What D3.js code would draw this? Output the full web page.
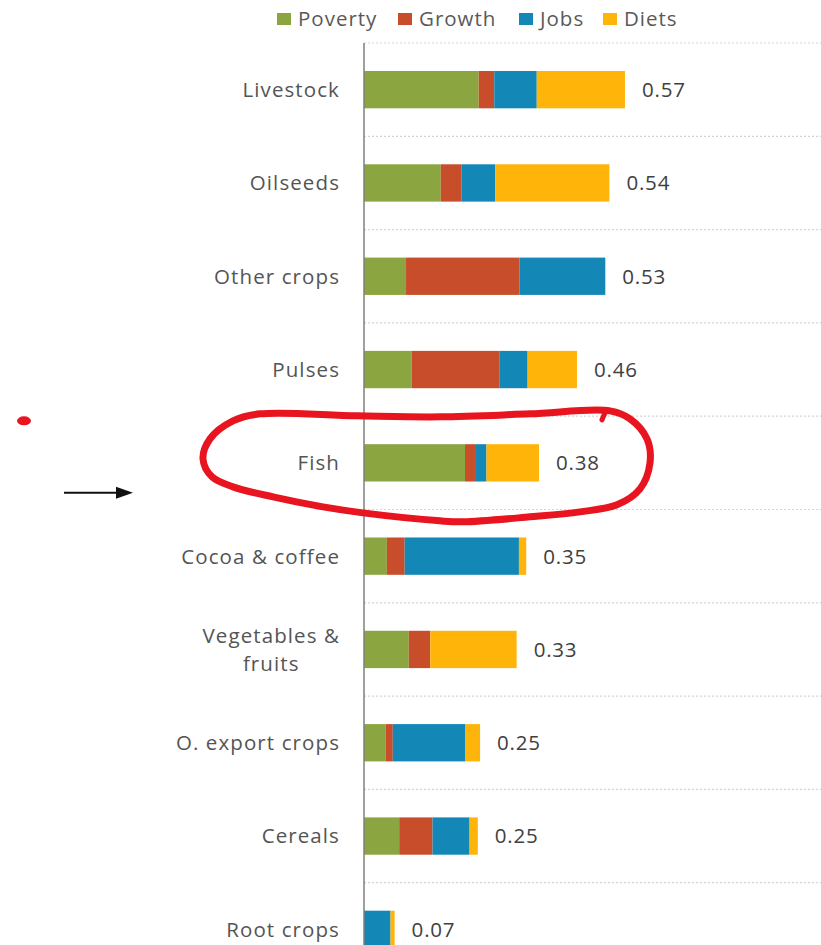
<!DOCTYPE html>
<html lang="en">
  <head>
    <meta charset="utf-8">
    <title>Stacked bars</title>
    <script src="https://d3js.org/d3.v7.min.js"></script>
    <style>
      body { margin: 0; background: #fff; }
      text { font-family: "Open Sans", sans-serif; }
    </style>
  </head>
  <body>
    <script>
      var categories = ["Livestock", "Oilseeds", "Other crops", "Pulses", "Fish",
        "Cocoa & coffee", "Vegetables & fruits", "O. export crops", "Cereals", "Root crops"];
      var series = ["Poverty", "Growth", "Jobs", "Diets"];
      var poverty = [0.251, 0.168, 0.092, 0.104, 0.221, 0.050, 0.098, 0.047, 0.077, 0];
      var growth  = [0.034, 0.045, 0.248, 0.192, 0.024, 0.039, 0.047, 0.016, 0.073, 0];
      var jobs    = [0.093, 0.074, 0.188, 0.062, 0.023, 0.250, 0, 0.158, 0.081, 0.058];
      var diets   = [0.193, 0.250, 0, 0.108, 0.115, 0.016, 0.189, 0.033, 0.018, 0.009];
      var totals  = ["0.57", "0.54", "0.53", "0.46", "0.38", "0.35", "0.33", "0.25", "0.25", "0.07"];
      var colors  = ["#8ba640", "#c84e2b", "#1388b7", "#ffb40a"];

      var width = 821, height = 945;

      var rows = categories.map(function(c, i) {
        return { name: c, Poverty: poverty[i], Growth: growth[i], Jobs: jobs[i], Diets: diets[i], total: totals[i] };
      });

      var x = d3.scaleLinear().domain([0, 0.6]).range([364, 364 + 0.6 * 457]);
      var y = d3.scaleBand().domain(categories).range([43, 976])
        .paddingInner(0.6).paddingOuter(0.3);
      var step = y.step();
      var color = d3.scaleOrdinal().domain(series).range(colors);

      var svg = d3.select("body").append("svg")
        .attr("width", width)
        .attr("height", height);

      // grid lines between rows
      svg.append("g").selectAll("line")
        .data(categories)
        .enter().append("line")
        .attr("x1", x(0)).attr("x2", width)
        .attr("y1", function(d) { return y(d) - step * 0.3; })
        .attr("y2", function(d) { return y(d) - step * 0.3; })
        .style("stroke", "#d4d4d4")
        .style("stroke-width", 1.2)
        .style("stroke-dasharray", "2,2");

      var stack = d3.stack().keys(series)(rows);

      svg.append("g").selectAll("g")
        .data(stack)
        .enter().append("g")
        .style("fill", function(d) { return color(d.key); })
        .selectAll("rect")
        .data(function(d) { return d; })
        .enter().append("rect")
        .attr("x", function(d) { return x(d[0]); })
        .attr("width", function(d) { return x(d[1]) - x(d[0]); })
        .attr("y", function(d) { return y(d.data.name); })
        .attr("height", y.bandwidth());

      // axis line
      svg.append("line")
        .attr("x1", x(0)).attr("x2", x(0))
        .attr("y1", 43).attr("y2", height)
        .style("stroke", "#7f7f7f")
        .style("stroke-width", 1.5);

      // value labels
      var last = stack[stack.length - 1];
      svg.append("g").selectAll("text")
        .data(last)
        .enter().append("text")
        .attr("x", function(d) { return x(d[1]) + 17; })
        .attr("y", function(d) { return y(d.data.name) + y.bandwidth() / 2; })
        .attr("dy", "0.36em")
        .style("font-size", "20.5px")
        .style("letter-spacing", "0.8px")
        .style("fill", "#404040")
        .text(function(d) { return d.data.total; });

      // category labels
      var wrapped = { "Vegetables & fruits": ["Vegetables &", "fruits"] };
      var labels = svg.append("g");
      categories.forEach(function(c) {
        var lines = wrapped[c] || [c];
        var cy = y(c) + y.bandwidth() / 2;
        var t = labels.append("text")
          .style("font-size", "20.5px")
          .style("letter-spacing", "1.1px")
          .style("fill", "#545454");
        if (lines.length === 1) {
          t.attr("x", 340).attr("y", cy).attr("dy", "0.36em")
            .attr("text-anchor", "end").text(c);
        } else {
          var spans = t.selectAll("tspan").data(lines).enter().append("tspan")
            .attr("y", function(d, i) { return cy + (i - (lines.length - 1) / 2) * 28; })
            .attr("dy", "0.36em")
            .text(function(d) { return d; });
          var w = d3.max(spans.nodes(), function(n) { return n.getComputedTextLength(); });
          spans.attr("x", 340 - w / 2).attr("text-anchor", "middle");
        }
      });

      // legend
      var legendX = [277, 398, 519, 603];
      var legend = svg.append("g").selectAll("g")
        .data(series)
        .enter().append("g")
        .attr("transform", function(d, i) { return "translate(" + legendX[i] + ",0)"; });
      legend.append("rect")
        .attr("x", 0).attr("y", 13)
        .attr("width", 14).attr("height", 12)
        .style("fill", function(d) { return color(d); });
      legend.append("text")
        .attr("x", 21).attr("y", 19).attr("dy", "0.36em")
        .style("font-size", "20.5px")
        .style("letter-spacing", "1px")
        .style("fill", "#595959")
        .text(function(d) { return d; });

      // annotations: red loop round Fish, dot and arrow
      var fx = x(0), fy = y("Fish") + y.bandwidth() / 2;
      var loop = [[246,-52],[266,-44],[283,-24],[286,0],[276,26],[253,42],[216,49],[166,54],
        [99,59],[76,58],[-1,50],[-41,44],[-91,34],[-131,24],[-152,14],[-161,-4],[-154,-24],
        [-131,-42],[-104,-49],[-7,-47],[76,-46],[166,-49]];
      var loopLine = d3.line()
        .x(function(d) { return fx + d[0]; })
        .y(function(d) { return fy + d[1]; })
        .curve(d3.curveCatmullRomClosed);
      svg.append("path")
        .attr("d", loopLine(loop))
        .style("fill", "none")
        .style("stroke", "#e8141f")
        .style("stroke-width", 7)
        .style("stroke-linecap", "round");
      svg.append("path")
        .attr("d", "M" + (fx + 241) + "," + (fy - 50) + "L" + (fx + 238) + "," + (fy - 43))
        .style("stroke", "#e8141f")
        .style("stroke-width", 5)
        .style("stroke-linecap", "round");

      svg.append("ellipse")
        .attr("cx", 24).attr("cy", fy - 42)
        .attr("rx", 7).attr("ry", 4.5)
        .style("fill", "#e8141f");

      var ay = fy + 30;
      svg.append("line")
        .attr("x1", 64).attr("x2", 118)
        .attr("y1", ay).attr("y2", ay)
        .style("stroke", "#111")
        .style("stroke-width", 2);
      svg.append("path")
        .attr("d", "M116," + (ay - 6) + "L133," + ay + "L116," + (ay + 6) + "Z")
        .style("fill", "#111");
    </script>
  </body>
</html>
